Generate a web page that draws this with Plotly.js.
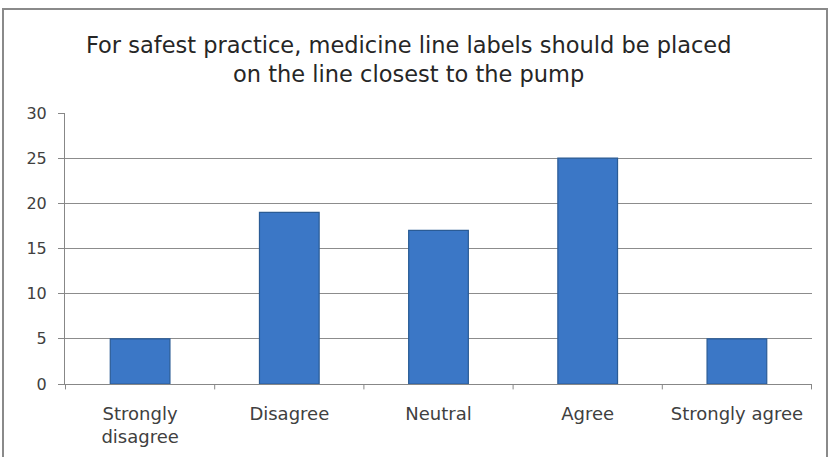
<!DOCTYPE html>
<html>
<head>
<meta charset="utf-8">
<script src="https://cdn.plot.ly/plotly-3.0.1.min.js"></script>
<style>
  html, body { margin: 0; padding: 0; background: #fff; }
  #chart { width: 829px; height: 457px; }
  #frame { position: absolute; left: 2px; top: 8px; width: 822px; height: 470px;
           border: 2px solid #8a8a8a; pointer-events: none; }
</style>
</head>
<body>
<div id="chart"></div>
<div id="frame"></div>
<script>
const categories = ["Strongly<br>disagree", "Disagree", "Neutral", "Agree", "Strongly agree"];
const values = [5, 19, 17, 25, 5];
const yTicks = [0, 5, 10, 15, 20, 25, 30];
const titleText = "For safest practice, medicine line labels should be placed<br>on the line closest to the pump";

const font = "DejaVu Sans, Open Sans, sans-serif";
const data = [{
  type: "bar",
  x: categories,
  y: values,
  marker: { color: "#3b77c6", line: { color: "#2a5b95", width: 1.2 } },
  hoverinfo: "x+y"
}];

const layout = {
  width: 829, height: 457,
  margin: { l: 65, r: 17, t: 113, b: 73 },
  paper_bgcolor: "#ffffff",
  plot_bgcolor: "#ffffff",
  showlegend: false,
  bargap: 0.6,
  title: {
    text: titleText,
    font: { family: font, size: 22.5, color: "#262626" },
    x: 0.493, xanchor: "center",
    yref: "container",
    y: 0.885, yanchor: "middle"
  },
  xaxis: {
    type: "category",
    showgrid: false,
    showline: true, linecolor: "#878787", linewidth: 1,
    ticks: "outside", ticklen: 0,
    ticklabelstandoff: 13,
    tickfont: { family: font, size: 18, color: "#404040" },
    fixedrange: true
  },
  yaxis: {
    range: [0, 30],
    tickvals: yTicks,
    showgrid: true, gridcolor: "#8c8c8c", gridwidth: 1,
    showline: true, linecolor: "#878787", linewidth: 1,
    ticks: "outside", ticklen: 6, tickcolor: "#878787",
    ticklabelstandoff: 8,
    tickfont: { family: font, size: 16, color: "#404040" },
    zeroline: false,
    fixedrange: true
  },
  shapes: []
};

// category boundary tick marks on the x axis
for (let i = 0; i <= categories.length; i++) {
  layout.shapes.push({
    type: "line", xref: "x", yref: "paper",
    x0: i - 0.5, x1: i - 0.5, y0: 0, y1: -0.02,
    line: { color: "#878787", width: 1 }
  });
}

Plotly.newPlot("chart", data, layout, { displayModeBar: false, staticPlot: true });
</script>
</body>
</html>
